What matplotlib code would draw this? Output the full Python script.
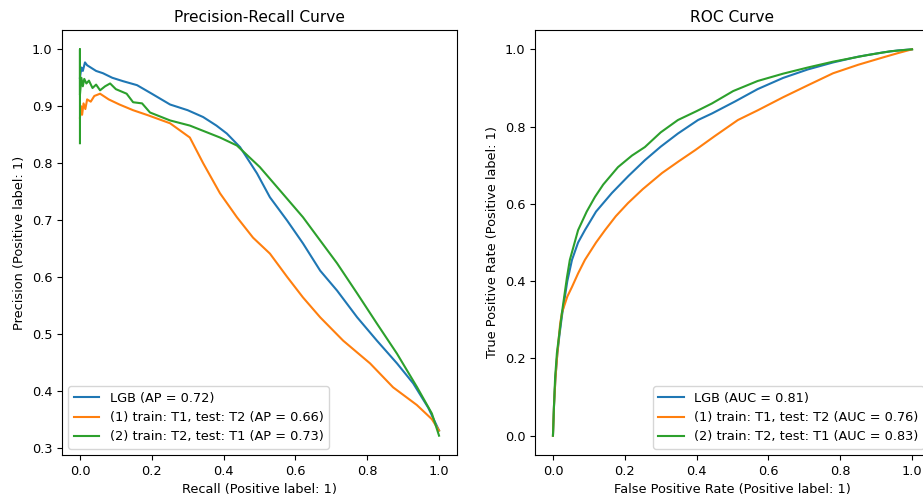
import matplotlib
matplotlib.use("Agg")
import matplotlib.pyplot as plt

plt.rcParams['font.size'] = 9.25

# Precision-Recall curves (recall, precision)
pr_lgb_r = [0.0, 0.004, 0.008, 0.014, 0.02, 0.03, 0.045, 0.064, 0.09, 0.12, 0.159, 0.2, 0.251, 0.3, 0.343,
            0.38, 0.409, 0.446, 0.493, 0.529, 0.577, 0.621, 0.669, 0.716, 0.772, 0.827, 0.883, 0.928,
            0.97, 1.0]
pr_lgb_p = [0.95, 0.968, 0.962, 0.977, 0.972, 0.968, 0.962, 0.958, 0.95, 0.944, 0.937, 0.922, 0.903, 0.893, 0.881,
            0.866, 0.852, 0.828, 0.782, 0.74, 0.699, 0.659, 0.611, 0.576, 0.529, 0.488, 0.448, 0.413,
            0.37, 0.33]

pr_t1_r = [0.0, 0.003, 0.006, 0.01, 0.015, 0.02, 0.03, 0.04, 0.056, 0.08, 0.11, 0.148, 0.19, 0.251, 0.306,
           0.343, 0.39, 0.437, 0.482, 0.529, 0.577, 0.621, 0.669, 0.733, 0.808, 0.872, 0.938, 0.98, 1.0]
pr_t1_p = [0.88, 0.90, 0.885, 0.905, 0.895, 0.912, 0.908, 0.918, 0.922, 0.912, 0.903, 0.893, 0.884, 0.87, 0.845,
           0.80, 0.747, 0.705, 0.669, 0.641, 0.60, 0.564, 0.529, 0.488, 0.448, 0.406, 0.375, 0.35, 0.33]

pr_t2_r = [0.0, 0.0, 0.0, 0.004, 0.008, 0.012, 0.018, 0.025, 0.035, 0.045, 0.056, 0.07, 0.084, 0.1, 0.13,
           0.148, 0.173, 0.195, 0.251, 0.306, 0.39, 0.437, 0.501, 0.557, 0.621, 0.669, 0.716, 0.772,
           0.827, 0.883, 0.939, 0.98, 1.0]
pr_t2_p = [0.835, 1.0, 0.92, 0.95, 0.935, 0.948, 0.94, 0.945, 0.932, 0.938, 0.928, 0.935, 0.94, 0.93, 0.922,
           0.907, 0.905, 0.889, 0.875, 0.866, 0.845, 0.831, 0.793, 0.752, 0.705, 0.664, 0.624, 0.571,
           0.518, 0.465, 0.406, 0.36, 0.321]

# ROC curves (fpr, tpr)
roc_lgb_f = [0.0, 0.003, 0.007, 0.012, 0.018, 0.025, 0.04, 0.053, 0.07, 0.089, 0.12, 0.164, 0.21, 0.256,
             0.3, 0.348, 0.404, 0.443, 0.507, 0.57, 0.641, 0.71, 0.78, 0.85, 0.919, 0.96, 1.0]
roc_lgb_t = [0.0, 0.08, 0.15, 0.21, 0.26, 0.31, 0.4, 0.455, 0.5, 0.532, 0.58, 0.628, 0.672, 0.713,
             0.748, 0.782, 0.817, 0.834, 0.865, 0.897, 0.926, 0.948, 0.966, 0.981, 0.992, 0.997, 1.0]

roc_t1_f = [0.0, 0.003, 0.007, 0.012, 0.02, 0.025, 0.04, 0.053, 0.07, 0.089, 0.12, 0.145, 0.175, 0.209,
            0.25, 0.304, 0.35, 0.396, 0.45, 0.515, 0.57, 0.641, 0.71, 0.78, 0.85, 0.919, 0.96, 1.0]
roc_t1_t = [0.0, 0.08, 0.15, 0.21, 0.29, 0.318, 0.36, 0.385, 0.42, 0.455, 0.5, 0.532, 0.568, 0.602,
            0.638, 0.68, 0.71, 0.739, 0.775, 0.817, 0.842, 0.876, 0.907, 0.938, 0.96, 0.979, 0.99, 1.0]

roc_t2_f = [0.0, 0.003, 0.006, 0.011, 0.025, 0.039, 0.047, 0.07, 0.094, 0.117, 0.14, 0.181, 0.22, 0.256,
            0.3, 0.348, 0.4, 0.443, 0.502, 0.57, 0.641, 0.71, 0.78, 0.875, 0.94, 1.0]
roc_t2_t = [0.0, 0.08, 0.15, 0.214, 0.318, 0.41, 0.455, 0.532, 0.58, 0.618, 0.65, 0.695, 0.725, 0.747,
            0.785, 0.817, 0.84, 0.86, 0.892, 0.918, 0.937, 0.953, 0.968, 0.985, 0.995, 1.0]

pr_labels = ['LGB (AP = 0.72)', '(1) train: T1, test: T2 (AP = 0.66)', '(2) train: T2, test: T1 (AP = 0.73)']
roc_labels = ['LGB (AUC = 0.81)', '(1) train: T1, test: T2 (AUC = 0.76)', '(2) train: T2, test: T1 (AUC = 0.83)']

fig = plt.figure(figsize=(9.23, 5.03), dpi=100)
ax1 = fig.add_axes([62 / 923, 48 / 503, 395 / 923, 425 / 503])
ax2 = fig.add_axes([535 / 923, 48 / 503, 395 / 923, 425 / 503])

ax1.plot(pr_lgb_r, pr_lgb_p, label=pr_labels[0])
ax1.plot(pr_t1_r, pr_t1_p, label=pr_labels[1])
ax1.plot(pr_t2_r, pr_t2_p, label=pr_labels[2])
ax1.set_xlabel('Recall (Positive label: 1)')
ax1.set_ylabel('Precision (Positive label: 1)')
ax1.set_title('Precision-Recall Curve')
ax1.legend(loc='lower left')

ax2.plot(roc_lgb_f, roc_lgb_t, label=roc_labels[0])
ax2.plot(roc_t1_f, roc_t1_t, label=roc_labels[1])
ax2.plot(roc_t2_f, roc_t2_t, label=roc_labels[2])
ax2.set_xlabel('False Positive Rate (Positive label: 1)')
ax2.set_ylabel('True Positive Rate (Positive label: 1)')
ax2.set_title('ROC Curve')
ax2.legend(loc='lower right')

fig.savefig('out.png', dpi=100)
